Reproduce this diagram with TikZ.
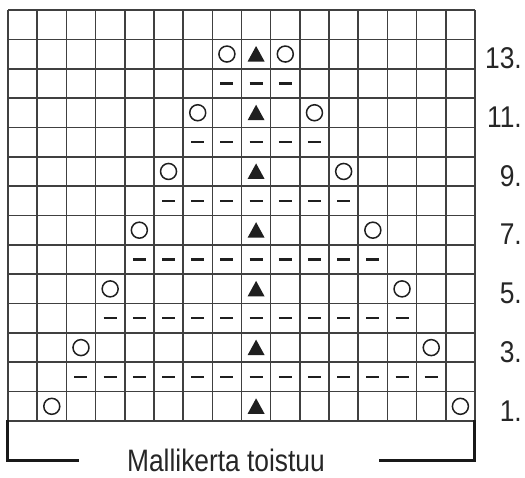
\documentclass[tikz,border=0pt]{standalone}
\usepackage{fontspec}
\setmainfont{Liberation Sans}
\usepackage{graphicx}
\begin{document}
\begin{tikzpicture}[x=1pt,y=1pt,
  gridline/.style={line width=1.6pt, draw=black!75},
  yarnover/.style={draw=black!88, line width=1.5pt},
  purlmark/.style={draw=black!88, line width=2.4pt},
  decmark/.style={fill=black!88},
  bracketline/.style={line width=3pt, draw=black!90},
  rowlabel/.style={anchor=base east, inner sep=0pt, text=black!85}]
\useasboundingbox (0,0) rectangle (525,477);
\fill[white] (0,0) rectangle (525,477);
\begin{scope}[shift={(8,56)}, x=29.1875pt, y=29.357pt]
  % grid
  \foreach \i in {0,...,16} \draw[gridline] (\i,0) -- (\i,14);
  \foreach \j in {0,...,14} \draw[gridline] (0,\j) -- (16,\j);
  % odd rows: circles and triangles
  \foreach \k in {0,...,6} {
    \pgfmathtruncatemacro{\r}{2*\k+1}
    \pgfmathtruncatemacro{\cl}{2+\k}
    \pgfmathtruncatemacro{\cr}{16-\k}
    \draw[yarnover] (\cl-0.5,\r-0.5) circle[radius=8pt];
    \draw[yarnover] (\cr-0.5,\r-0.5) circle[radius=8pt];
    \fill[decmark] ([shift={(-8.5pt,-7.5pt)}]8.5,\r-0.5) -- ([shift={(8.5pt,-7.5pt)}]8.5,\r-0.5) -- ([shift={(0pt,8pt)}]8.5,\r-0.5) -- cycle;
  }
  % even rows: purl dashes
  \foreach \k in {1,...,6} {
    \pgfmathtruncatemacro{\r}{2*\k}
    \pgfmathtruncatemacro{\ca}{2+\k}
    \pgfmathtruncatemacro{\cb}{16-\k}
    \foreach \c in {\ca,...,\cb}
      \draw[purlmark] ([xshift=-6.5pt]\c-0.5,\r-0.5) -- ([xshift=6.5pt]\c-0.5,\r-0.5);
  }
\end{scope}
% row numbers
\foreach \r in {1,3,...,13} {
  \pgfmathsetmacro{\yb}{56+(\r-1)*29.357}
  \node[rowlabel] (row\r) at (522,\yb) {\scalebox{0.88}[1]{\fontsize{30}{36}\selectfont \r.}};
}
% repeat bracket
\draw[bracketline] (7,57) -- (7,17) -- (79,17);
\draw[bracketline] (474.5,57) -- (474.5,17) -- (379,17);
\node[anchor=base, inner sep=0pt, text=black!85] (repeat) at (226,5.5) {\scalebox{0.85}[1]{\fontsize{31}{37}\selectfont Mallikerta toistuu}};
\end{tikzpicture}
\end{document}
